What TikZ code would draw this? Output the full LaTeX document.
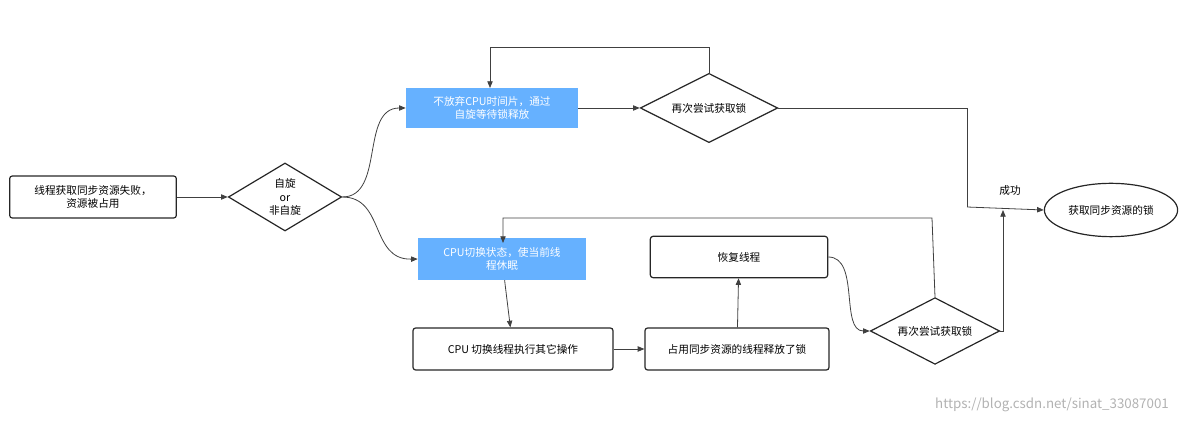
\documentclass[tikz,border=0pt]{standalone}
\usepackage{fontspec}
\setmainfont{Noto Sans CJK SC}
\usetikzlibrary{shapes.geometric,arrows.meta}
\definecolor{bl}{HTML}{66B1FF}
\begin{document}
\begin{tikzpicture}[x=0.75pt,y=-0.75pt,
 box/.style={draw=black!85,line width=0.9pt,rounded corners=2pt,minimum height=31.5pt,align=center,font=\fontsize{8}{10}\selectfont,inner sep=2pt},
 bbox/.style={fill=bl,text=white,minimum height=30pt,align=center,font=\fontsize{8}{10}\selectfont,inner sep=2pt},
 dia/.style={draw=black!85,line width=0.9pt,diamond,aspect=1.9,align=center,font=\fontsize{8}{10}\selectfont,inner sep=0pt},
 ar/.style={draw=black!75,line width=0.6pt,-{Triangle[length=5pt,width=4pt]}},
 ln/.style={draw=black!75,line width=0.6pt}]
\useasboundingbox (0,0) rectangle (1192,423);
\node[box,minimum width=125pt] (s) at (93,197) {线程获取同步资源失败，\\资源被占用};
\node[dia,minimum width=85pt,minimum height=51pt] (d1) at (285,197) {自旋\\or\\非自旋};
\node[bbox,minimum width=129pt] (b1) at (492,108) {不放弃CPU时间片，通过\\自旋等待锁释放};
\node[dia,minimum width=103pt,minimum height=52pt] (d2) at (709,108) {再次尝试获取锁};
\node[bbox,minimum width=126pt,minimum height=31.5pt] (b2) at (502,259) {CPU切换状态，使当前线\\程休眠};
\node[box,minimum width=150pt] (c3) at (513,349) {CPU 切换线程执行其它操作};
\node[box,minimum width=138pt] (c4) at (737,349) {占用同步资源的线程释放了锁};
\node[box,minimum width=133pt,minimum height=31pt] (c5) at (739,257) {恢复线程};
\node[dia,minimum width=97pt,minimum height=50pt] (d3) at (935,331) {再次尝试获取锁};
\node[draw=black!85,line width=0.9pt,ellipse,minimum width=96pt,minimum height=40pt,font=\fontsize{8}{10}\selectfont] (e) at (1111,210) {获取同步资源的锁};
\node[font=\fontsize{8}{10}\selectfont] (ok) at (1010,190) {成功};
\node[text=black!30,font=\fontsize{10}{12}\selectfont] (wm) at (1052,405) {https://blog.csdn.net/sinat\_33087001};
\coordinate (j) at (967,207);
\draw[ar] (s) -- (d1);
\draw[ar] (d1.east) .. controls (385,197) and (360,108) .. (b1.west);
\draw[ar] (d1.east) .. controls (385,197) and (370,260) .. (b2.west);
\draw[ar] (b1) -- (d2);
\draw[ar] (d2.north) -- (709,47) -| (490,88);
\draw[ln] (d2.east) -| (j);
\draw[ar] (j) -- (e.west);
\draw[ar] (d3.east) -| (1003,210);
\draw[ar] (b2) -- (c3);
\draw[ar] (c3) -- (c4);
\draw[ar] (c4) -- (c5);
\draw[ar] (c5.east) .. controls (860,257) and (840,331) .. (d3.west);
\draw[ar] (d3.north) -- (932,218) -| (503,243);
\end{tikzpicture}
\end{document}
